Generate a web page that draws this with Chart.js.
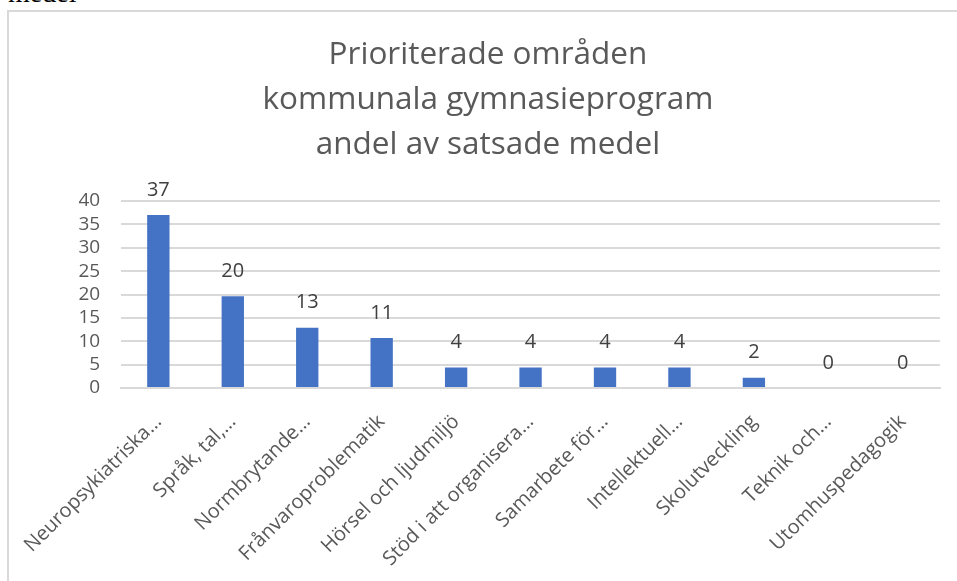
<!DOCTYPE html>
<html><head><meta charset="utf-8">
<script src="https://cdn.jsdelivr.net/npm/chart.js@4/dist/chart.umd.min.js"></script>
<style>
html,body{margin:0;padding:0;background:#fff;overflow:hidden;width:957px;height:581px;}
#pre{position:absolute;left:8px;top:-27px;font-family:"Liberation Serif",serif;font-size:28px;color:#000;line-height:40px;}
#wrap{position:absolute;left:7px;top:10px;width:960px;height:600px;border:2px solid #d9d9d9;}
canvas{display:block;}
</style></head><body>
<div id="pre">medel</div>
<div id="wrap"><canvas id="c" width="960" height="600" style="width:960px;height:600px"></canvas></div>
<script>
const titleLines = ["Prioriterade områden", "kommunala gymnasieprogram", "andel av satsade medel"];
const categories = ["Neuropsykiatriska…", "Språk, tal,…", "Normbrytande…", "Frånvaroproblematik", "Hörsel och ljudmiljö", "Stöd i att organisera…", "Samarbete för…", "Intellektuell…", "Skolutveckling", "Teknik och…", "Utomhuspedagogik"];
const values = [37, 19.6, 12.9, 10.7, 4.4, 4.4, 4.4, 4.4, 2.2, 0, 0];
const yTicks = [0, 5, 10, 15, 20, 25, 30, 35, 40];

const FONT = "'Open Sans', sans-serif";

const valueLabels = {
  id: 'valueLabels',
  afterDatasetsDraw(chart) {
    const ctx = chart.ctx;
    const meta = chart.getDatasetMeta(0);
    ctx.save();
    ctx.font = "20px " + FONT;
    ctx.fillStyle = "#404040";
    ctx.textAlign = "center";
    ctx.textBaseline = "middle";
    meta.data.forEach((bar, i) => {
      const v = chart.data.datasets[0].data[i];
      ctx.fillText(String(Math.round(v)), bar.x, bar.y - 25);
    });
    ctx.restore();
  }
};

new Chart(document.getElementById('c'), {
  type: 'bar',
  data: {
    labels: categories,
    datasets: [{
      data: values,
      backgroundColor: '#4472C4',
      barPercentage: 0.3,
      categoryPercentage: 1.0
    }]
  },
  options: {
    responsive: false,
    animation: false,
    layout: { padding: { left: 27, right: 29, top: 0, bottom: 0 } },
    plugins: {
      legend: { display: false },
      tooltip: { enabled: false },
      title: {
        display: true,
        text: titleLines,
        color: '#595959',
        font: { family: FONT, size: 31.5, weight: 'normal', lineHeight: 45 / 31.5 },
        padding: { top: 21, bottom: 33 }
      }
    },
    scales: {
      x: {
        grid: { display: false },
        border: { display: true, color: '#d9d9d9', width: 2 },
        ticks: {
          color: '#595959',
          font: { family: FONT, size: 20 },
          maxRotation: 45, minRotation: 45,
          autoSkip: false,
          padding: 14
        },
        afterFit(scale) { scale.height = 224; }
      },
      y: {
        min: 0, max: 40,
        afterBuildTicks(scale) { scale.ticks = yTicks.map(v => ({ value: v })); },
        grid: { color: '#d9d9d9', lineWidth: 2, drawTicks: false },
        border: { display: false },
        ticks: {
          color: '#595959',
          font: { family: FONT, size: 19 },
          padding: 21,
          autoSkip: false
        },
        afterFit(scale) { scale.width = 84; }
      }
    }
  },
  plugins: [valueLabels]
});
</script>
</body></html>
